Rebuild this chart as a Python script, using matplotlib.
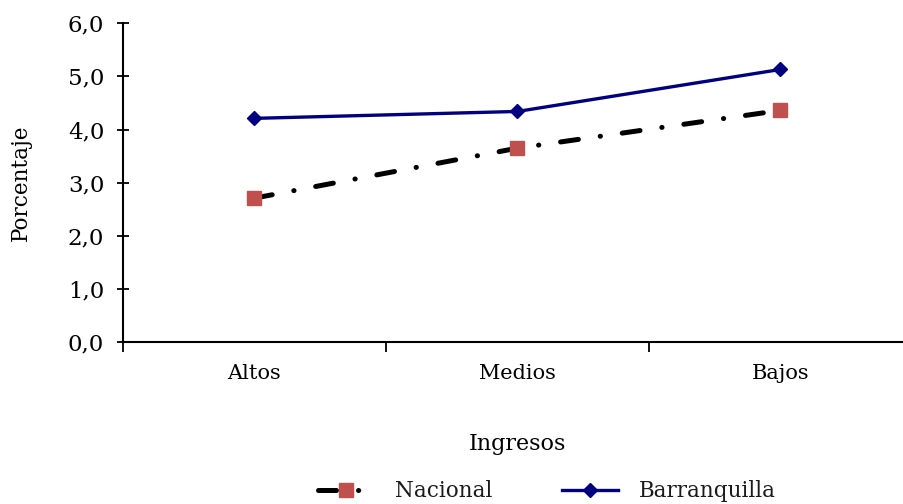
import numpy as np
import matplotlib
matplotlib.use("Agg")
import matplotlib.pyplot as plt
from matplotlib.ticker import FixedLocator

# data
categorias = ["Altos", "Medios", "Bajos"]
nacional = [2.71, 3.65, 4.36]
barranquilla = [4.21, 4.34, 5.13]
y_ticks = [0, 1, 2, 3, 4, 5, 6]
y_labels = ["0,0", "1,0", "2,0", "3,0", "4,0", "5,0", "6,0"]

plt.rcParams['font.family'] = ['DejaVu Serif']
plt.rcParams['text.color'] = '#1a1a1a'

fig = plt.figure(figsize=(9.04, 5.04), dpi=100)
ax = fig.add_axes([123 / 904, 0.321, (912 - 123) / 904, 0.633])

x = np.arange(len(categorias))

ax.plot(x, nacional, color='black', lw=3.6, dash_capstyle='round',
        linestyle=(0, (3.6, 4.4, 0.05, 4.4)),
        marker='s', ms=10, mfc='#C0504D', mec='#C0504D', label='Nacional', zorder=3)
ax.plot(x, barranquilla, color='#000080', lw=2.4,
        marker='D', ms=7.5, mfc='#000080', mec='#000080', label='Barranquilla', zorder=4)

ax.set_xlim(-0.5, 2.5)
ax.set_ylim(0, 6)

ax.set_yticks(y_ticks)
ax.set_yticklabels(y_labels, fontsize=16.5)
ax.tick_params(axis='y', direction='inout', length=9, width=1.3, pad=9)

ax.set_xticks(x)
ax.set_xticklabels(categorias, fontsize=15)
ax.tick_params(axis='x', which='major', length=0, pad=16)
ax.xaxis.set_minor_locator(FixedLocator([-0.5, 0.5, 1.5, 2.5]))
ax.tick_params(axis='x', which='minor', direction='out', length=7, width=1.3)

for side in ['top', 'right']:
    ax.spines[side].set_visible(False)
for side in ['left', 'bottom']:
    ax.spines[side].set_linewidth(1.5)

ax.set_ylabel("Porcentaje", fontsize=15.5, labelpad=26)
ax.set_xlabel("Ingresos", fontsize=16, labelpad=36)

leg = fig.legend(loc='lower center', bbox_to_anchor=(0.605, -0.035), ncol=2,
                 frameon=False, fontsize=15.5, handlelength=2.6,
                 handletextpad=1.0, columnspacing=3.2)

fig.savefig("out.png", dpi=100)
